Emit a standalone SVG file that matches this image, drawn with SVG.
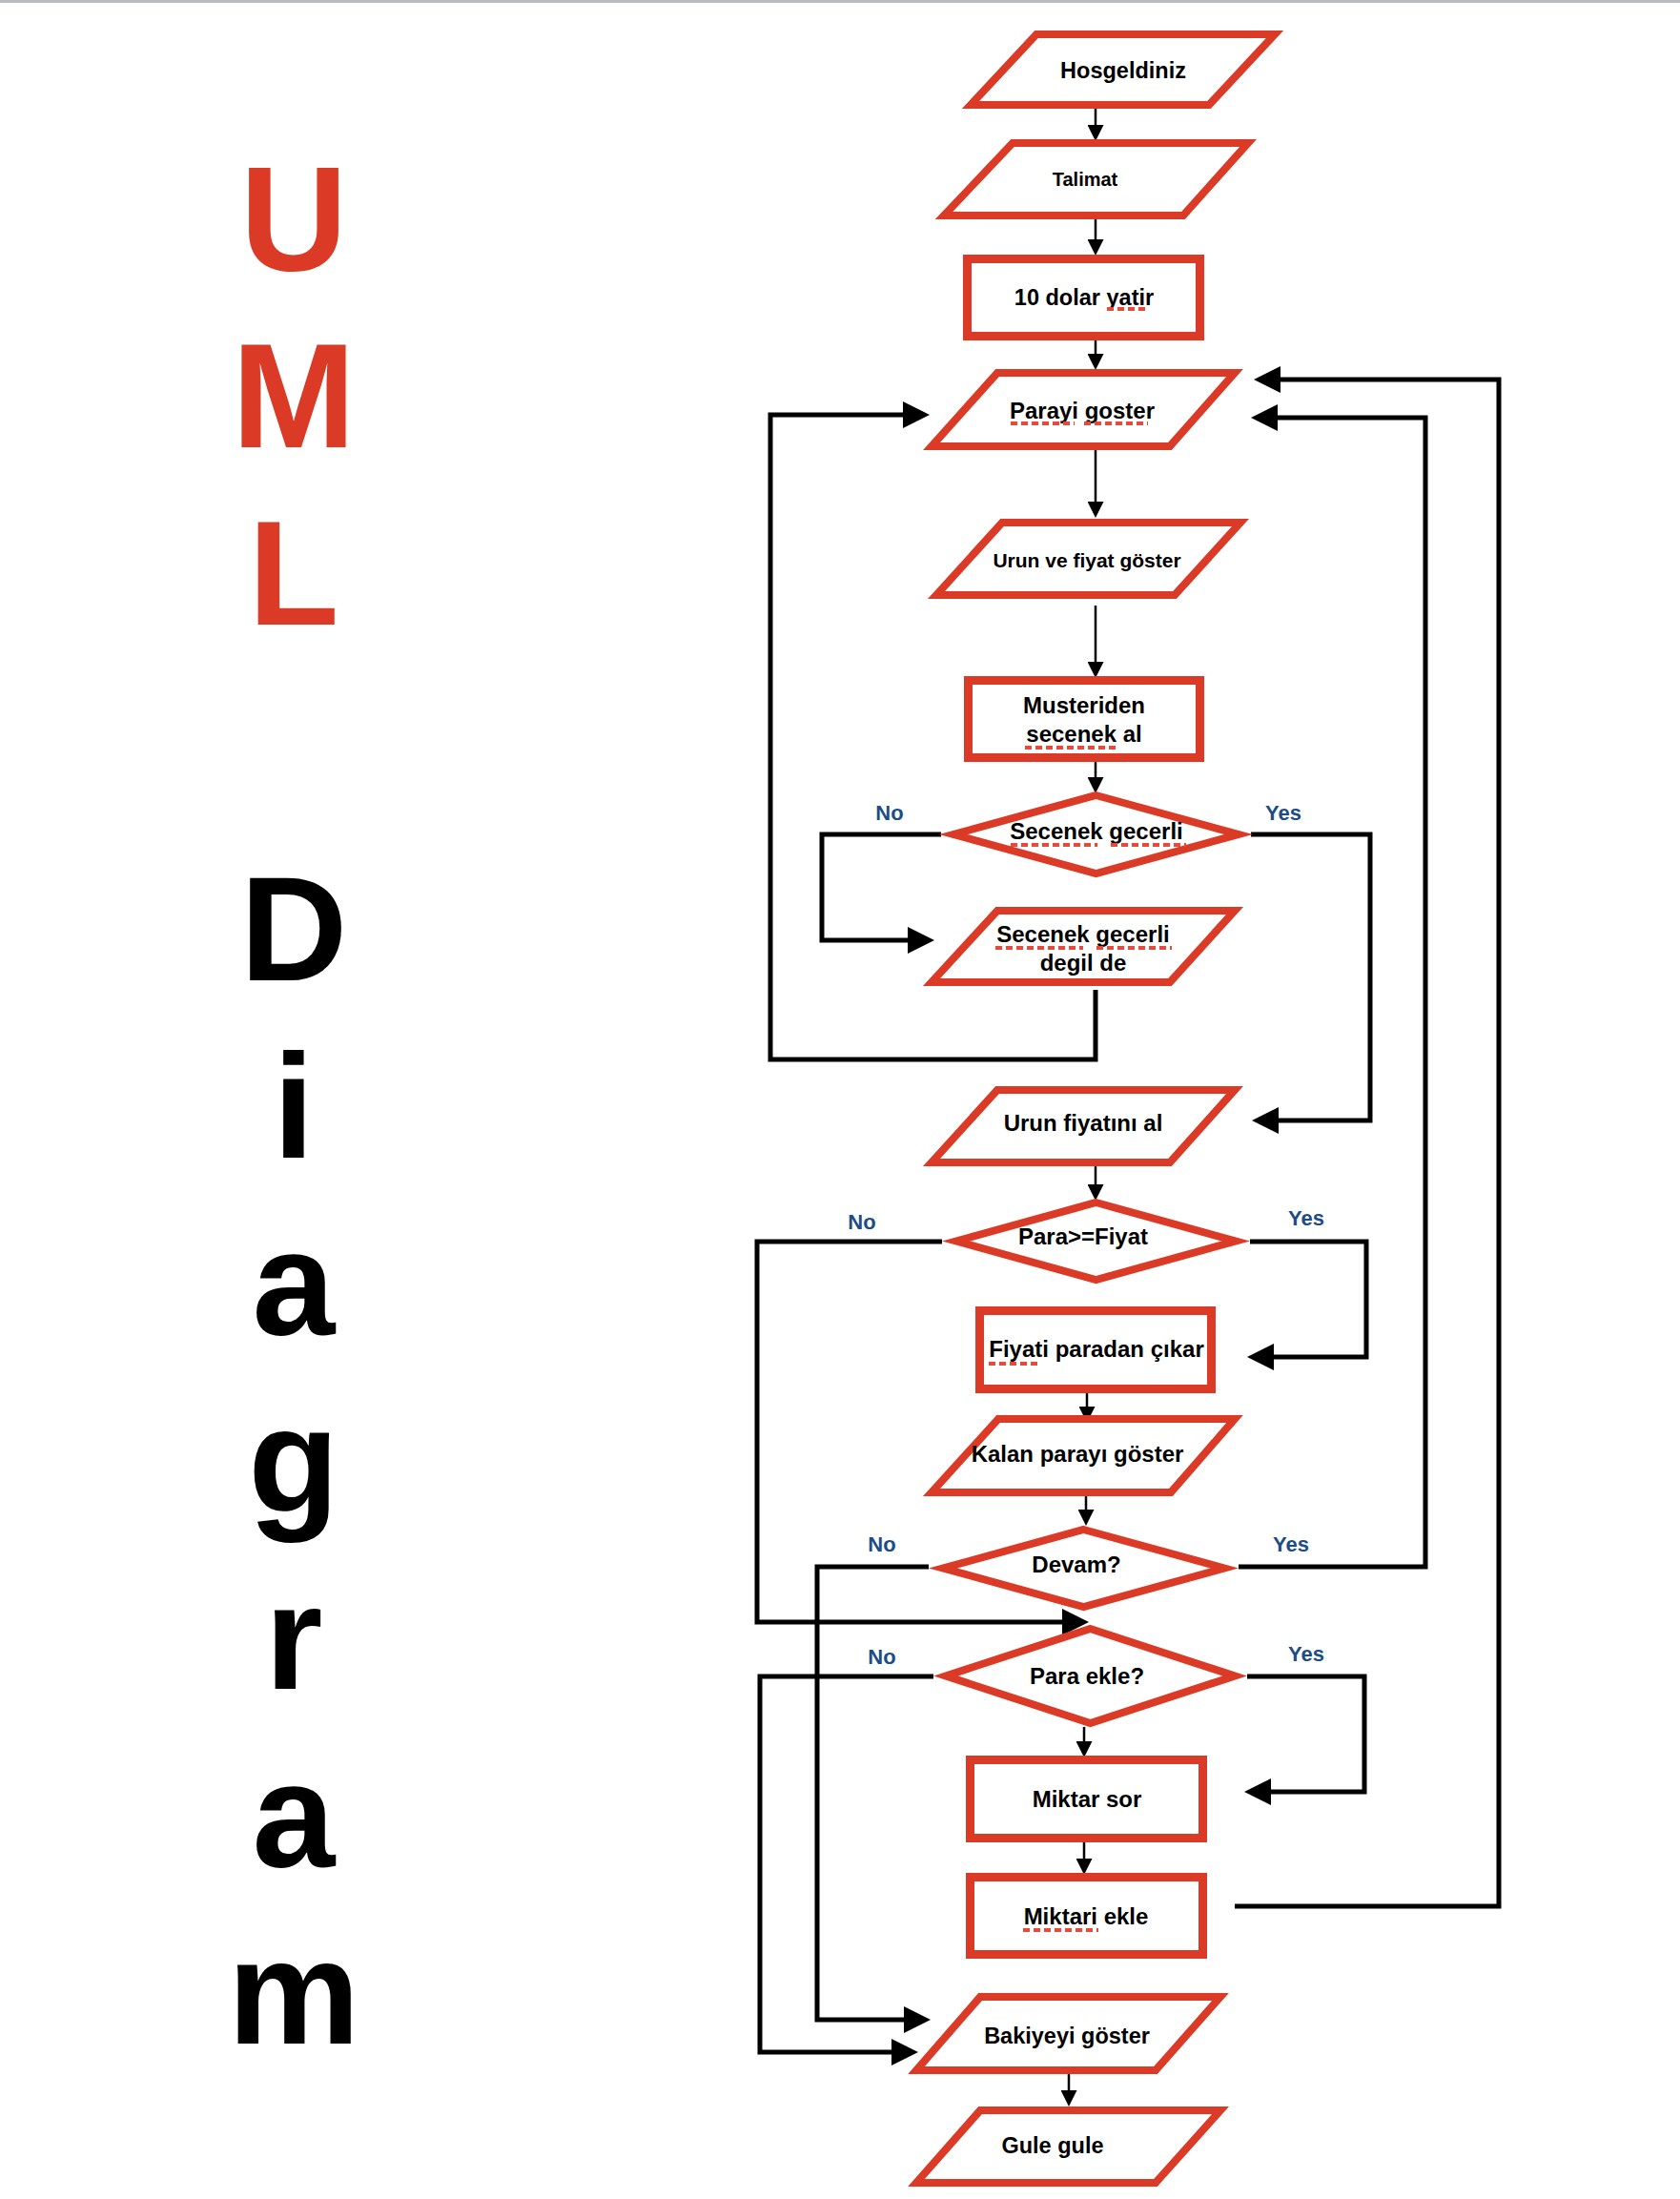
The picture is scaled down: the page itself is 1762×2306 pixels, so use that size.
<svg xmlns="http://www.w3.org/2000/svg" width="1762" height="2306" viewBox="0 0 1762 2306">
<style>
.shape{fill:#fff;stroke:#db3b26;stroke-width:8;stroke-linejoin:miter;stroke-miterlimit:10}
.box{fill:#fff;stroke:#db3b26;stroke-width:9}
.t{font-family:"Liberation Sans",Arial,Helvetica,sans-serif;font-weight:bold;fill:#000;text-anchor:middle}
.lbl{font-family:"Liberation Sans",Arial,Helvetica,sans-serif;font-weight:bold;fill:#1d4c86;font-size:22px;text-anchor:middle}
.big{font-family:"Liberation Sans",Arial,Helvetica,sans-serif;font-weight:bold;font-size:156px;text-anchor:middle}
.spell{stroke:#e8493b;stroke-width:4;stroke-dasharray:7 4;fill:none}
.thin{fill:none;stroke:#000;stroke-width:2.5;marker-end:url(#ah)}
.thick{fill:none;stroke:#000;stroke-width:5;stroke-linejoin:miter;marker-end:url(#bh)}
</style>
<defs>
<marker id="ah" markerUnits="userSpaceOnUse" markerWidth="17" markerHeight="17" refX="7" refY="8.5" orient="auto"><path d="M0,0 L17,8.5 L0,17 z" fill="#000"/></marker>
<marker id="bh" markerUnits="userSpaceOnUse" markerWidth="28" markerHeight="28" refX="8" refY="14" orient="auto"><path d="M0,0 L28,14 L0,28 z" fill="#000"/></marker>
</defs>
<rect x="0" y="0" width="1762" height="2306" fill="#fff"/>
<rect x="0" y="0" width="1762" height="3" fill="#b8bbbf"/>

<g id="title">
<text class="big" x="308" y="283" fill="#db3b26">U</text>
<text class="big" x="308" y="469" fill="#db3b26">M</text>
<text class="big" x="308" y="655" fill="#db3b26">L</text>
<text class="big" x="308" y="1028" fill="#000">D</text>
<text class="big" x="308" y="1214" fill="#000">i</text>
<text class="big" x="308" y="1399" fill="#000">a</text>
<text class="big" x="308" y="1585" fill="#000">g</text>
<text class="big" x="308" y="1771" fill="#000">r</text>
<text class="big" x="308" y="1957" fill="#000">a</text>
<text class="big" x="308" y="2143" fill="#000">m</text>
</g>

<g id="connectors">
<path class="thin" d="M1149 114 V138"/>
<path class="thin" d="M1149 230 V258"/>
<path class="thin" d="M1149 357 V378"/>
<path class="thin" d="M1149 472 V533"/>
<path class="thin" d="M1149 635 V701"/>
<path class="thin" d="M1149 799 V822"/>
<path class="thin" d="M1149 1223 V1249"/>
<path class="thin" d="M1140 1461 V1482"/>
<path class="thin" d="M1139 1569 V1590"/>
<path class="thin" d="M1137 1811 V1833"/>
<path class="thin" d="M1137 1932 V1956"/>
<path class="thin" d="M1121 2175 V2199"/>
<path class="thick" d="M987 875 H862 V986 H960"/>
<path class="thick" d="M1312 875 H1437 V1175 H1333"/>
<path class="thick" d="M1149 1038 V1111 H808 V435 H955"/>
<path class="thick" d="M988 1302 H794 V1701 H1122"/>
<path class="thick" d="M1311 1302 H1433 V1423 H1328"/>
<path class="thick" d="M974 1643 H857 V2118 H956"/>
<path class="thick" d="M1299 1643 H1495 V438 H1332"/>
<path class="thick" d="M979 1758 H797 V2152 H943"/>
<path class="thick" d="M1308 1758 H1431 V1879 H1325"/>
<path class="thick" d="M1295 1999 H1572 V398 H1335"/>
<text class="lbl" x="933" y="860">No</text>
<text class="lbl" x="1346" y="860">Yes</text>
<text class="lbl" x="904" y="1289">No</text>
<text class="lbl" x="1370" y="1285">Yes</text>
<text class="lbl" x="925" y="1627">No</text>
<text class="lbl" x="1354" y="1627">Yes</text>
<text class="lbl" x="925" y="1745">No</text>
<text class="lbl" x="1370" y="1742">Yes</text>
</g>

<g id="n-hosgeldiniz">
<polygon class="shape" points="1087,36 1337,36 1268,110 1018,110"/>
<text class="t" x="1178" y="82" font-size="23.5">Hosgeldiniz</text>
</g>
<g id="n-talimat">
<polygon class="shape" points="1062,150 1309,150 1241,226 990,226"/>
<text class="t" x="1138" y="195" font-size="20">Talimat</text>
</g>
<g id="n-dolar">
<rect class="box" x="1014.5" y="271.5" width="244" height="81"/>
<text class="t" x="1137" y="320" font-size="23.5">10 dolar yatir</text>
<line class="spell" x1="1161" y1="324" x2="1204" y2="324"/>
</g>
<g id="n-parayi">
<polygon class="shape" points="1046,391 1295,391 1227,468 977,468"/>
<text class="t" x="1135" y="439" font-size="24">Parayi goster</text>
<line class="spell" x1="1060" y1="444" x2="1127" y2="444"/>
<line class="spell" x1="1137" y1="444" x2="1204" y2="444"/>
</g>
<g id="n-urunfiyat">
<polygon class="shape" points="1051,548 1301,548 1232,624 982,624"/>
<text class="t" x="1140" y="595" font-size="21">Urun ve fiyat göster</text>
</g>
<g id="n-musteriden">
<rect class="box" x="1015.5" y="713.5" width="243" height="81"/>
<text class="t" x="1137" y="748" font-size="24">Musteriden</text>
<text class="t" x="1137" y="778" font-size="24">secenek al</text>
<line class="spell" x1="1075" y1="784" x2="1170" y2="784"/>
</g>
<g id="n-secenek">
<polygon class="shape" points="1149.5,834 1299,875 1149.5,916 1000,875"/>
<text class="t" x="1150" y="880" font-size="24">Secenek gecerli</text>
<line class="spell" x1="1060" y1="886" x2="1151" y2="886"/>
<line class="spell" x1="1165" y1="886" x2="1244" y2="886"/>
</g>
<g id="n-degil">
<polygon class="shape" points="1046,955 1295,955 1227,1030 977,1030"/>
<text class="t" x="1136" y="988" font-size="24">Secenek gecerli</text>
<text class="t" x="1136" y="1018" font-size="24">degil de</text>
<line class="spell" x1="1044" y1="994" x2="1136" y2="994"/>
<line class="spell" x1="1150" y1="994" x2="1229" y2="994"/>
</g>
<g id="n-urunal">
<polygon class="shape" points="1046,1143 1295,1143 1227,1219 977,1219"/>
<text class="t" x="1136" y="1186" font-size="24">Urun fiyatını al</text>
</g>
<g id="n-parafiyat">
<polygon class="shape" points="1149.5,1261 1296,1301.5 1149.5,1342 1003,1301.5"/>
<text class="t" x="1136" y="1305" font-size="24">Para&gt;=Fiyat</text>
</g>
<g id="n-cikar">
<rect class="box" x="1027.5" y="1374.5" width="243" height="82"/>
<text class="t" x="1150" y="1423" font-size="24">Fiyati paradan çıkar</text>
<line class="spell" x1="1037" y1="1430" x2="1092" y2="1430"/>
</g>
<g id="n-kalan">
<polygon class="shape" points="1047,1488 1295,1488 1228,1565 977,1565"/>
<text class="t" x="1130" y="1533" font-size="24">Kalan parayı göster</text>
</g>
<g id="n-devam">
<polygon class="shape" points="1136.5,1604 1284,1644.5 1136.5,1685 989,1644.5"/>
<text class="t" x="1129" y="1649" font-size="24">Devam?</text>
</g>
<g id="n-paraekle">
<polygon class="shape" points="1143.5,1708 1295,1757.5 1143.5,1807 992,1757.5"/>
<text class="t" x="1140" y="1766" font-size="24">Para ekle?</text>
</g>
<g id="n-miktarsor">
<rect class="box" x="1017.5" y="1845.5" width="244" height="82"/>
<text class="t" x="1140" y="1895" font-size="24">Miktar sor</text>
</g>
<g id="n-miktariekle">
<rect class="box" x="1017.5" y="1968.5" width="244" height="81"/>
<text class="t" x="1139" y="2018" font-size="24">Miktari ekle</text>
<line class="spell" x1="1073" y1="2024" x2="1152" y2="2024"/>
</g>
<g id="n-bakiye">
<polygon class="shape" points="1028,2094 1280,2094 1212,2171 961,2171"/>
<text class="t" x="1119" y="2143" font-size="23.5">Bakiyeyi göster</text>
</g>
<g id="n-gule">
<polygon class="shape" points="1028,2213 1280,2213 1212,2289 961,2289"/>
<text class="t" x="1104" y="2258" font-size="23.5">Gule gule</text>
</g>
</svg>
